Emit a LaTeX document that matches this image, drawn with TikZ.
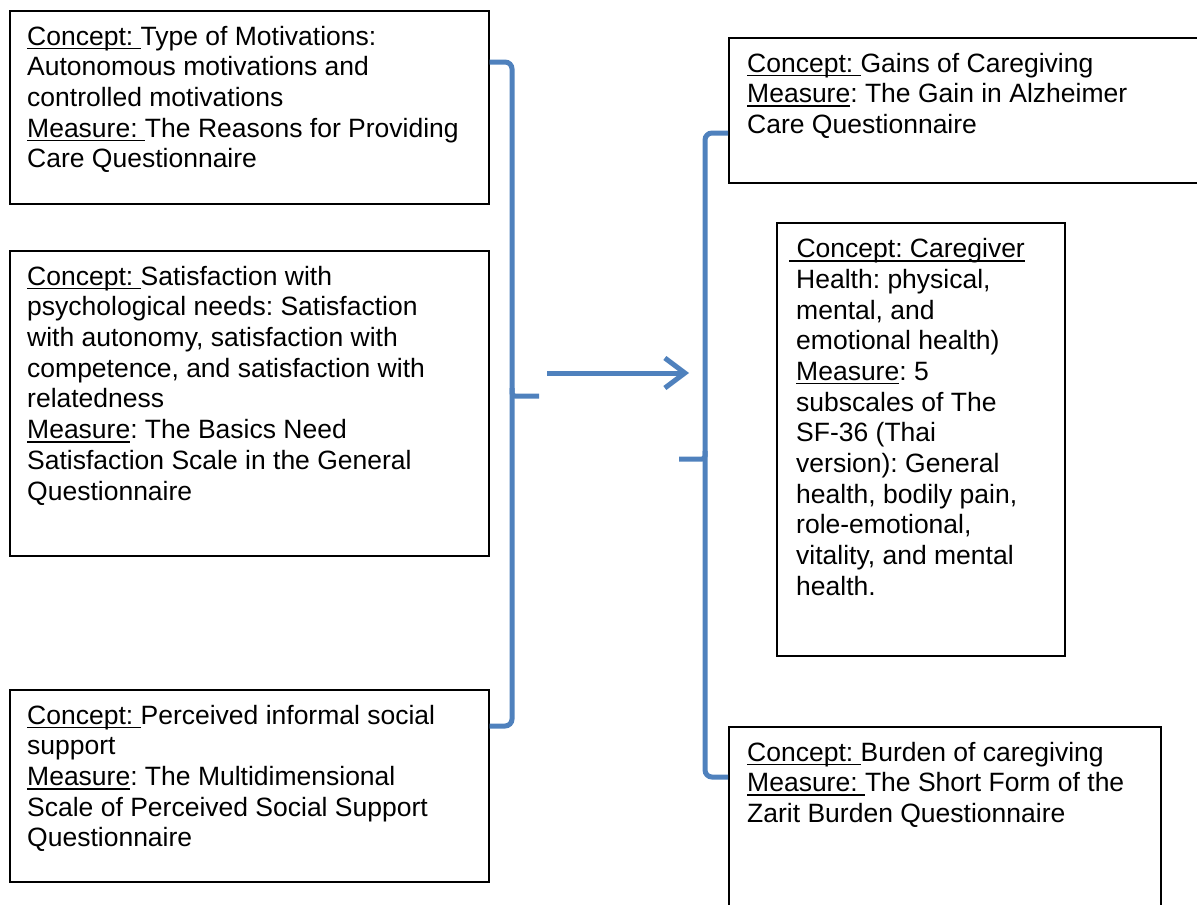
\documentclass[tikz,border=0pt]{standalone}
\usepackage{fontspec}
\setmainfont{Liberation Sans}
\usetikzlibrary{arrows.meta}
\definecolor{brkblue}{RGB}{79,129,189}
\newcommand\ulx[1]{\setbox0\hbox{#1}\rlap{\rule[-4pt]{\wd0}{1.4pt}}\box0}
\tikzset{
  box/.style={draw=black, line width=1.6pt, rectangle, inner sep=0pt, anchor=north west},
  txt/.style={anchor=north west, inner sep=0pt, align=left, font=\fontsize{26.5}{30.7}\selectfont\frenchspacing},
  brk/.style={draw=brkblue, line width=5pt, rounded corners=7pt},
  arr/.style={draw=brkblue, line width=5pt, -{Straight Barb[length=20pt, width=30pt, line width=5pt]}}
}
\begin{document}
\begin{tikzpicture}[x=1pt, y=-1pt]
\useasboundingbox (0,0) rectangle (1197,905);
% left boxes
\node[box, minimum width=479pt, minimum height=193pt] (b1) at (9,10) {};
\node[box, minimum width=479pt, minimum height=305pt] (b2) at (9,250) {};
\node[box, minimum width=479pt, minimum height=192pt] (b3) at (9,689) {};
% right boxes
\node[box, minimum width=490pt, minimum height=145pt] (r1) at (728,37) {};
\node[box, minimum width=288pt, minimum height=433pt] (r2) at (776,222) {};
\node[box, minimum width=432pt, minimum height=200pt] (r3) at (728,726) {};
% texts
\node[txt] (t1) at (27,23.5) {\strut\ulx{Concept:\ }Type of Motivations:\\Autonomous motivations and\\controlled motivations\\\ulx{Measure:\ }The Reasons for Providing\\Care Questionnaire};
\node[txt] (t2) at (27,263.5) {\strut\ulx{Concept:\ }Satisfaction with\\psychological needs: Satisfaction\\with autonomy, satisfaction with\\competence, and satisfaction with\\relatedness\\\ulx{Measure}: The Basics Need\\Satisfaction Scale in the General\\Questionnaire};
\node[txt] (t3) at (27,702.5) {\strut\ulx{Concept:\ }Perceived informal social\\support\\\ulx{Measure}: The Multidimensional\\Scale of Perceived Social Support\\Questionnaire};
\node[txt] (t4) at (747,50.5) {\strut\ulx{Concept:\ }Gains of Caregiving\\\ulx{Measure}: The Gain in Alzheimer\\Care Questionnaire};
\node[txt] (t5) at (789,236) {\strut\ulx{\ Concept: Caregiver}\\\hspace*{7pt}Health: physical,\\\hspace*{7pt}mental, and\\\hspace*{7pt}emotional health)\\\hspace*{7pt}\ulx{Measure}: 5\\\hspace*{7pt}subscales of The\\\hspace*{7pt}SF-36 (Thai\\\hspace*{7pt}version): General\\\hspace*{7pt}health, bodily pain,\\\hspace*{7pt}role-emotional,\\\hspace*{7pt}vitality, and mental\\\hspace*{7pt}health.};
\node[txt] (t6) at (747,739.5) {\strut\ulx{Concept:\ }Burden of caregiving\\\ulx{Measure:\ }The Short Form of the\\Zarit Burden Questionnaire};
% left bracket
\coordinate (lt) at (b1.east |- 0,62);
\coordinate (lb) at (b3.east |- 0,726);
\coordinate (ltip) at (539,396);
\draw[brk] (lt) -- (512,62) -- (512,726) -- (lb);
\draw[brk, rounded corners=3pt] (512,388) -- (512,396) -- (ltip);
% arrow
\coordinate (as) at (547,373);
\coordinate (ae) at (689,373);
\draw[arr] (as) -- (ae);
% right bracket
\coordinate (rt) at (r1.west |- 0,133);
\coordinate (rb) at (r3.west |- 0,777);
\coordinate (rtip) at (679,459);
\draw[brk] (rt) -- (705,133) -- (705,777) -- (rb);
\draw[brk, rounded corners=3pt] (705,451) -- (705,459) -- (rtip);
\end{tikzpicture}
\end{document}
